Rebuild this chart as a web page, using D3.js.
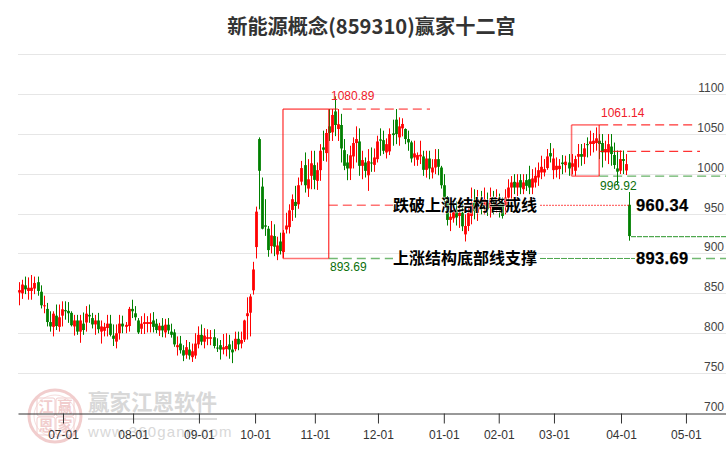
<!DOCTYPE html>
<html><head><meta charset="utf-8">
<script src="https://cdn.jsdelivr.net/npm/d3@7"></script>
<style>html,body{margin:0;padding:0;background:#fff}svg{display:block}</style>
</head><body><svg id="c" width="726" height="450"></svg>
<script>
const title = "新能源概念(859310)赢家十二宫";
const yTicks = [700,750,800,850,900,950,1000,1050,1100,1150];
const yLabels = [700,750,800,850,900,950,1000,1050,1100];
const monthLabels = ["07-01","08-01","09-01","10-01","11-01","12-01","01-01","02-01","03-01","04-01","05-01"];
const monthIndex = [14.4,37.5,59.2,77.7,97.4,118.2,139.9,158,176.2,198.3,219.7];

const opens = [851,850,860,853,853,856,864,852,834,830.5,814,808,822,808,822,829,828,825.5,808.5,816,802,812,813.5,823,819,811,816,802,803,806.5,812,797,789.5,800,812,808,809,830.5,
825,816,805.6,811.6,811.6,811.6,816,812,803.5,809.4,801,810.7,802,801,782.5,787,778.7,773,779.5,770,772,786,798,789.4,793,793,795,782,785,779.5,780,786,779.5,780,793,787,792,821.4,825.7,
853.8,908,1043.4,983.8,935.2,931,909.2,921.8,898.7,915,901.7,930,933,954.5,964.6,961.6,990,1010.7,981.3,997.3,1010.7,991,1004.4,1032.9,1025.8,1059.3,1051.8,1078,1056,1061,1029.5,1014,1006.5,1021.6,
1038.4,1040.4,1009.8,1014,998,1014,1011,1018.2,1043,1042,1026.6,1027.9,1050.5,1067.7,1045.5,1056.8,1056,1043.4,1039.2,1020.3,1017.4,1021.6,1021.6,1004.8,1019,1001.5,1007.7,1018.2,1007.7,985.5,967.9,942,944,
955,947,951,923.9,934.4,947,963.7,951,965.8,959.5,963.7,957.4,965.8,957.4,963,963.8,959.6,970,982.6,989.8,982.6,991.9,980.5,991.9,993,982.6,988.9,995.2,1001.5,1001.5,1007,1025.8,1004.4,1004.8,1005.7,1014,1010.7,1014,1008.6,1003.6,1021.2,1024.6,1021.2,1037,1037.2,1037.2,1038.4,1041.3,1038.4,1026.7,1026.7,1034,1023.4,1006.6,1003.7,1018.3,1004,961];
const closes = [854,861,855,857,857,863,853,835,835,814,808.5,824.5,809,820,830,827.5,825,810,816,802,816,804,824.5,821,811,816,805,808.5,808,812,798,793,800,812,808.5,810.5,830.5,827.5,
820,801,812,814,814,814,808,804,809.4,803.5,810.7,803.5,798,786,785,778.7,772,782.5,772,777.4,787,798,789.4,797,795,795,784,781.7,779.5,782.5,784,779.5,776,793,786,791.5,816,825,846,
879.9,952.4,1003.6,931,933.5,904.2,922.6,908.4,910,903,926,935,954,968,959.5,985.5,1007,985.5,993,1013,992.2,1004.4,1028.7,1030,1051,1051,1073.6,1061,1062,1031.6,1009.8,1006.5,1023,1038.4,
1043.4,1009.8,1017,1003.5,1015.7,1012.8,1020.3,1040.4,1041.3,1028.7,1037,1049.7,1048.4,1049.7,1059.3,1062.3,1043.4,1039.2,1019,1025.4,1023.3,1023.7,1004.8,1019,1006.5,1007.7,1018.2,1008.6,985.5,967.9,942,946,953,
945,951,934,934.4,951,963.7,953,968,957.4,968,955.3,968,953.2,963.7,955,947,970,982.6,989,982.6,989,982.6,989,984.7,982.6,994,997.3,1004.4,1008.6,1005.7,1021.6,1021.6,1019,1009.9,1009.9,1012,1015,1006.5,1013,1018.3,1024.6,1021.2,1031.7,1036,1040.5,1041.3,1044.3,1037.2,1026.7,1030.9,1037,1024.6,1010.8,1002.5,1018.3,1016,1012,921.8];
const highs = [864,867,871,870,873,871,871,860,847,838,827.5,827.5,836,836,840,840,839,827.5,823,823,823,826,834,836,825.5,823,825.5,816,813,823,823,811,811,823,822,814,833,842,
834,819,821.4,825,821.4,825,826.5,818,813,819,818,819,812,805,796,796.6,785,791.5,789,787,800,808.6,811,806.4,805,804,805,793.6,791.5,799,800,798,790.6,802,802,802,817,845,849,
889.5,958.7,1045.5,995.2,968,934.4,940.7,936.5,921,926,929.3,951,961.6,974,984.7,995.2,1016,1026.6,1018.2,1028.7,1028.7,1014,1037,1053.9,1056,1081,1081,1097,1081,1075,1043.4,1024.5,1035,1045.5,
1059.3,1056.8,1028.7,1020.3,1030.8,1032.9,1031.6,1047.6,1056.8,1053.9,1044.2,1056.8,1067.7,1081,1070.6,1069.4,1056.8,1053.9,1041.3,1041.3,1026.6,1041.3,1028.7,1028.7,1028.7,1018.2,1030.8,1030.8,1009.8,999.4,972,959.5,959.5,
965,963,962,949,959.5,982.6,980.5,979.6,978.4,982.6,976.3,982.6,978.4,980.5,975,970,980.5,993,997,999.4,999.4,999.4,999.4,999.4,1009.9,1005.7,1007.8,1014,1022.5,1018.3,1030.9,1038.4,1031.7,1020.4,1018.3,1023.3,1022.5,1024.6,1024.6,1022.5,1037.2,1037.2,1038.4,1045.5,1053.9,1051,1058,1049.7,1049.7,1041.3,1049.7,1049.7,1039,1029,1029,1029,1024.6,977];
const lows = [835,843,849,842,842,849,847,831,825,808.5,802,796,804,802,808.5,817,813,808.5,797,798,788,798,802,813,806,798,800,787,796,796,796,784,781,792,800,800,802,819,
816,799,799,799,801,801,801,800,796.6,795,794.5,799,794.5,783,772,774.5,765,768,767,764,768,781,785,781,785,785,781,776.5,767,773.5,771,768,762.5,777.4,778.7,781,789,792,796,
848.4,893.7,955.3,930.2,922,895.8,900,896.6,891.6,898.7,894.5,925,925,940.7,944.8,956,985.5,976.3,970.8,980.5,980.5,979.6,991,1016,1015,1041,1041,1047,1041,1014,1004.4,991.8,992,1006.5,
1014,997.3,993,995.2,978.4,1002.3,1002.3,1014,1022.4,1024.5,1019,1023.3,1035,1037,1035,1046.7,1037,1028.7,1014,1009.8,1009.8,1012,997.3,995,993,994,999.4,998,981.3,959.5,935,928,938.6,
935,932,928,915,928,936.5,942.8,940.7,949,949,947,945,949,951,945,943.7,949,959.6,968,974.3,972,974.3,974.3,978.4,974.3,974.3,982.6,984.7,993.1,996.5,1004.8,1014,993.1,995.2,993.1,999.4,1001.5,997.3,999,997.3,1007.8,1009.9,1012,1020.4,1022.5,1026.7,1028.8,1018.3,1007.8,1016.2,1012,1010,1006,987,999.5,999.5,998.3,916];

const rectOne = {from:86.9, to:102, top:1080.89, bottom:893.69};
const rectTwo = {from:182, to:191.1, top:1061.14, bottom:996.92};
const midLevel = 1028;
const breakLevel = 960.34;
const lastLevel = 921;

const svg = d3.select("#c");
const latin = "'Liberation Sans',Arial,sans-serif";
const cjk = "'Noto Sans CJK SC','Noto Sans',sans-serif";
const x = d3.scaleLinear().domain([-0.43,232.9]).range([18,726]);
const y = d3.scaleLinear().domain([700,1150]).range([413,54]);

// grid
svg.append("g").selectAll("line").data(yTicks.slice(1)).join("line")
  .attr("x1",18).attr("x2",726).attr("y1",d=>Math.round(y(d))+.5).attr("y2",d=>Math.round(y(d))+.5)
  .attr("stroke","#e6e6e6").attr("stroke-width",1);

// watermark
const wm = svg.append("g");
const logo = wm.append("g").attr("opacity",.42);
logo.append("circle").attr("cx",55).attr("cy",416).attr("r",26).attr("fill","none").attr("stroke","#e08a8a").attr("stroke-width",3);
logo.append("circle").attr("cx",55).attr("cy",416).attr("r",21).attr("fill","none").attr("stroke","#eab0b0").attr("stroke-width",1);
[["江",46,407],["赢",65,407],["恩",46,426],["家",65,426]].forEach(([t,a,b])=>{
  logo.append("rect").attr("x",a-9).attr("y",b-9).attr("width",18).attr("height",18).attr("rx",2).attr("fill","none").attr("stroke","#e08a8a");
  logo.append("text").attr("x",a).attr("y",b+5).attr("text-anchor","middle").attr("font-family",cjk).attr("font-weight",700).attr("font-size",15).attr("fill","#e08a8a").text(t);
});
wm.append("text").attr("x",88).attr("y",410).attr("font-family",cjk).attr("font-weight",700).attr("font-size",21.5).attr("fill","#d8d8d8").text("赢家江恩软件");
wm.append("rect").attr("x",88).attr("y",418).attr("width",129).attr("height",2).attr("fill","#dcdcdc");
wm.append("text").attr("x",88).attr("y",437).attr("font-family",latin).attr("font-size",15).attr("letter-spacing",1.2).attr("fill","#d8d8d8").text("www.360gann.com");

// axis
const axis = d3.axisBottom(x).tickValues(monthIndex).tickFormat((d,i)=>monthLabels[i]).tickSize(10).tickPadding(7).tickSizeOuter(0);
const ag = svg.append("g").attr("transform","translate(0,413.5)").call(axis);
ag.selectAll("path,line").attr("stroke","#333");
ag.selectAll("text").attr("font-family",latin).attr("font-size",12).attr("fill","#333");

// y labels
svg.append("g").selectAll("text").data(yLabels).join("text")
  .attr("x",724).attr("y",d=>y(d)-2).attr("text-anchor","end")
  .attr("font-family",latin).attr("font-size",12).attr("fill","#444").text(d=>d);

// candles
const n = opens.length;
const idx = d3.range(n);
const col = i => closes[i] >= opens[i] ? "#ff0000" : "#008000";
const g = svg.append("g");
g.selectAll("line").data(idx).join("line")
  .attr("x1",i=>Math.round(x(i))+.5).attr("x2",i=>Math.round(x(i))+.5)
  .attr("y1",i=>y(highs[i])).attr("y2",i=>y(lows[i]))
  .attr("stroke",col).attr("stroke-width",1);
g.selectAll("rect").data(idx).join("rect")
  .attr("x",i=>Math.round(x(i))-.9).attr("width",2.8)
  .attr("y",i=>y(Math.max(opens[i],closes[i])))
  .attr("height",i=>Math.max(1,Math.abs(y(opens[i])-y(closes[i]))))
  .attr("fill",col);

// annotations
const ann = svg.append("g");
const seg = (a,b,v,c,w,dash,op=1)=>ann.append("line").attr("x1",a).attr("x2",b).attr("y1",y(v)).attr("y2",y(v))
  .attr("stroke",c).attr("stroke-width",w).attr("stroke-dasharray",dash||null).attr("opacity",op);
const vert = (a,v1,v2,c,w,op=1)=>ann.append("line").attr("x1",a).attr("x2",a).attr("y1",y(v1)).attr("y2",y(v2))
  .attr("stroke",c).attr("stroke-width",w).attr("opacity",op);
const r1a=x(rectOne.from), r1b=x(rectOne.to), r2a=x(rectTwo.from), r2b=x(rectTwo.to);

vert(r1a,rectOne.top,rectOne.bottom,"#ff0000",1);
vert(r1b,rectOne.top,rectOne.bottom,"#ff0000",1);
seg(r1a,r1b,rectOne.top,"#ff0000",1.6,null,.55);
seg(r1a,r1b,rectOne.bottom,"#ff0000",1.6,null,.55);
seg(r1b,430,rectOne.top,"#ff0000",1.6,"9 5",.5);
seg(r1b,393,breakLevel,"#ff0000",1.6,"9 5",.55);
seg(r1b,393,rectOne.bottom,"#008000",1.6,"9 5",.55);
seg(540,629,breakLevel,"#ff0000",1,"2 1",.7);
seg(540,635,rectOne.bottom,"#008000",1,"6 1",.7);
seg(692,726,rectOne.bottom,"#008000",1.4,"9 5",.55);

vert(r2a,rectTwo.top,rectTwo.bottom,"#ff0000",1.6,.55);
vert(r2b,rectTwo.top,rectTwo.bottom,"#ff0000",1.2,.8);
seg(r2a,r2b,rectTwo.top,"#ff0000",1.6,null,.55);
seg(r2a,r2b,rectTwo.bottom,"#ff0000",1.6,null,.55);
seg(r2b,696,rectTwo.top,"#ff0000",1.2,"9 5",.8);
seg(r2b,700,midLevel,"#ff0000",1.2,"9 5",.8);
seg(r2b,726,rectTwo.bottom,"#008000",1.4,"9 5",.6);
seg(631,726,lastLevel,"#008000",1,"5 1",.85);

const label=(t,a,b,c,f)=>ann.append("text").attr("x",a).attr("y",b).attr("font-family",latin).attr("font-size",f||12).attr("fill",c).text(t);
label("1080.89",331,y(rectOne.top)-9,"#f0202a");
label("893.69",330,y(rectOne.bottom)+13,"#0a6f0a");
label("1061.14",601,y(rectTwo.top)-8,"#f0202a");
label("996.92",600,y(rectTwo.bottom)+14,"#0a6f0a");

const bold=(t,a,v)=>ann.append("text").attr("x",a).attr("y",y(v)+5.5)
  .attr("font-family",cjk).attr("font-weight",700).attr("font-size",16)
  .attr("fill","#000").attr("stroke","#fff").attr("stroke-width",1.2).attr("stroke-opacity",.7).attr("paint-order","stroke").text(t);
bold("跌破上涨结构警戒线",393,breakLevel);
bold("上涨结构底部线支撑",393,rectOne.bottom);
const num=(t,v)=>ann.append("text").attr("x",636).attr("y",y(v)+6)
  .attr("font-family",latin).attr("font-weight",700).attr("font-size",16.5).attr("letter-spacing",.35)
  .attr("fill","#000").attr("stroke","#000").attr("stroke-width",.25).text(t);
num(breakLevel.toFixed(2),breakLevel);
num(rectOne.bottom.toFixed(2),rectOne.bottom);

svg.append("text").attr("x",371.5).attr("y",33.5).attr("text-anchor","middle")
  .attr("font-family",cjk).attr("font-weight",700).attr("font-size",20.2).attr("fill","#333").text(title);
</script></body></html>
